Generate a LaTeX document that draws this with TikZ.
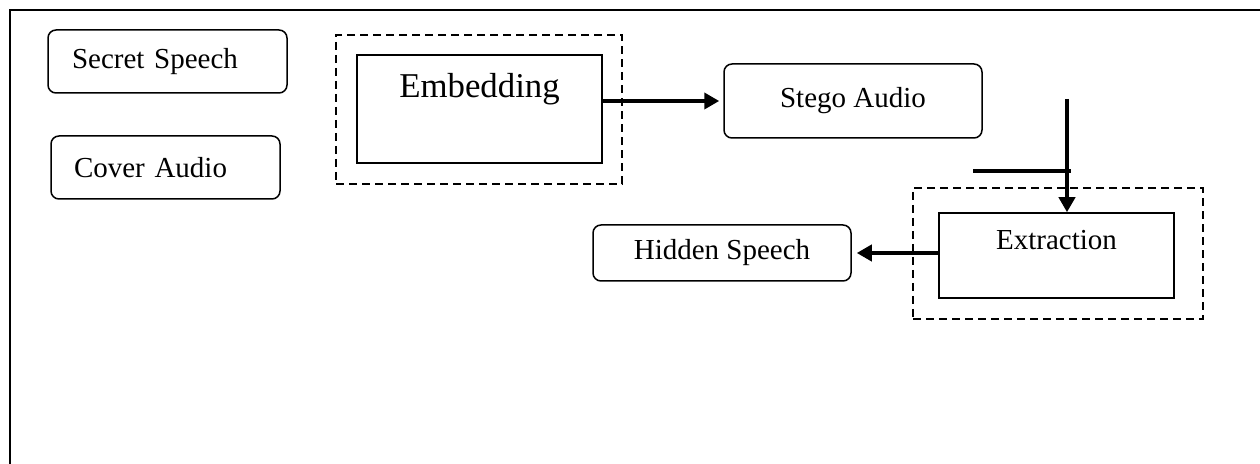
\documentclass[tikz,border=0pt]{standalone}
\usepackage{fontspec}
\setmainfont{Liberation Serif}
\usetikzlibrary{arrows.meta,positioning}

\tikzset{
    roundbox/.style={draw, line width=0.75pt, rounded corners=4pt, inner sep=0pt, align=left, font=\fontsize{14.5}{17}\selectfont},
    procbox/.style={draw, line width=0.75pt, inner sep=0pt},
    dashfrm/.style={draw, dash pattern=on 4pt off 2.5pt, line width=0.6pt, inner sep=0pt},
    flow/.style={line width=2.2pt, -{Triangle[length=7.5pt,width=8pt]}},
}

\begin{document}
\begin{tikzpicture}[x=0.5pt,y=-0.5pt]

\useasboundingbox (0,0) rectangle (1260,464);
\draw[line width=0.7pt] (10,464) -- (10,10) -- (1260,10);

\node[roundbox, minimum width=119.5pt, minimum height=31.5pt, text width=95.5pt] (secret) at (167.5,61.5) {Secret Speech};
\node[roundbox, minimum width=114.5pt, minimum height=31.5pt, text width=91.5pt] (cover) at (165.5,167.5) {Cover Audio};

\node[dashfrm, minimum width=143pt, minimum height=74.5pt] (embedfrm) at (479,109.5) {};
\node[procbox, minimum width=122.5pt, minimum height=54pt] (embed) at (479.5,109) {};
\node[anchor=base, font=\fontsize{17.4}{20}\selectfont] (embedtxt) at (479.5,98) {Embedding};

\node[roundbox, minimum width=129pt, minimum height=37pt, align=center] (stego) at (853,101) {Stego Audio};

\node[dashfrm, minimum width=145pt, minimum height=65.5pt] (extractfrm) at (1058,253.5) {};
\node[procbox, minimum width=117.5pt, minimum height=42.5pt] (extract) at (1056.5,255.5) {};
\node[anchor=base, font=\fontsize{14.5}{17}\selectfont] (extracttxt) at (1056.5,250) {Extraction};

\node[roundbox, minimum width=129pt, minimum height=28pt, align=center] (hidden) at (722,253) {Hidden Speech};

\draw[flow, shorten >=2pt] (embed.east |- stego.west) -- (stego.west);

\coordinate (dtop) at (1067,99);
\draw[flow] (dtop) -- (dtop |- extract.north);

\coordinate (hbar) at (973,171);
\coordinate (hend) at (1071,171);
\draw[line width=2.2pt] (hbar) -- (hend);

\draw[flow, shorten >=2.5pt] (extract.west |- hidden.east) -- (hidden.east);

\end{tikzpicture}
\end{document}
